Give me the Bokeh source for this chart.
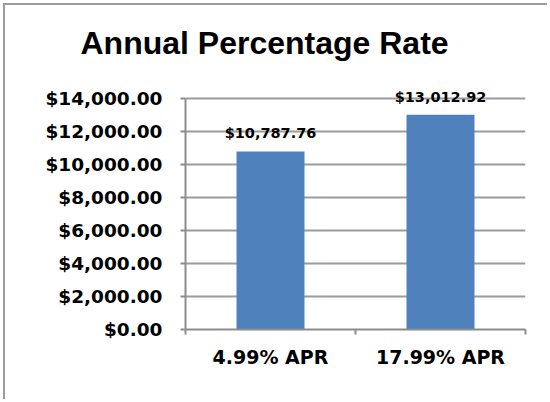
from bokeh.plotting import figure
from bokeh.models import (Range1d, FixedTicker, NumeralTickFormatter, ColumnDataSource,
                          Title, LabelSet)
from bokeh.core.properties import value
from bokeh.embed import file_html
from bokeh.resources import INLINE

categories = ["4.99% APR", "17.99% APR"]
totals = [10787.76, 13012.92]
y_ticks = [0, 2000, 4000, 6000, 8000, 10000, 12000, 14000]

xs = [i + 0.5 for i in range(len(categories))]
src = ColumnDataSource(dict(x=xs, top=totals,
                            label=["${:,.2f}".format(v) for v in totals]))

Y_MAX = 14000
Y_VIEW = Y_MAX * 252 / 232  # headroom above the top gridline for the data label

p = figure(width=542, height=394, output_backend="svg", toolbar_location=None,
           x_range=Range1d(0, len(categories)), y_range=Range1d(0, Y_VIEW),
           min_border_left=180, min_border_right=24, min_border_top=70, min_border_bottom=72)
p.outline_line_color = None
p.styles = {"box-sizing": "content-box",
            "border-left": "2px solid #9c9c9c", "border-top": "2px solid #9c9c9c",
            "margin-left": "3px", "margin-top": "3px"}

t = Title(text="Annual Percentage Rate", align="left", offset=-105,
          text_font="Liberation Sans", text_font_size="32px",
          text_font_style="bold", text_color="black", standoff=35)
p.add_layout(t, "above")

p.vbar(x="x", top="top", width=0.4, bottom=0, source=src,
       fill_color="#4f81bd", line_color=None)
labels = LabelSet(x="x", y="top", text="label", source=src, text_align="center",
                  text_baseline="middle", y_offset=18, text_font=value("DejaVu Sans"),
                  text_font_size="14.5px", text_font_style="bold", text_color="black")
p.add_layout(labels)

# x axis
p.xaxis.ticker = FixedTicker(ticks=xs, minor_ticks=list(range(len(categories) + 1)))
p.xaxis.major_label_overrides = {x: c for x, c in zip(xs, categories)}
p.xaxis.major_tick_out = 0
p.xaxis.major_tick_in = 0
p.xaxis.minor_tick_out = 5
p.xaxis.minor_tick_in = 0
p.xaxis.minor_tick_line_color = "#8c8c8c"
p.xaxis.minor_tick_line_width = 2
p.xaxis.axis_line_color = "#8c8c8c"
p.xaxis.axis_line_width = 2
p.xaxis.major_label_standoff = 11
p.xaxis.major_label_text_font = "DejaVu Sans"
p.xaxis.major_label_text_font_size = "19px"
p.xaxis.major_label_text_font_style = "bold"
p.xaxis.major_label_text_color = "black"

# y axis
p.yaxis.ticker = FixedTicker(ticks=y_ticks)
p.yaxis.bounds = (0, Y_MAX)
p.yaxis.formatter = NumeralTickFormatter(format="$0,0.00")
p.yaxis.major_tick_out = 5
p.yaxis.major_tick_in = 0
p.yaxis.minor_tick_line_color = None
p.yaxis.major_tick_line_color = "#8c8c8c"
p.yaxis.major_tick_line_width = 2
p.yaxis.axis_line_color = "#8c8c8c"
p.yaxis.axis_line_width = 2
p.yaxis.major_label_standoff = 18
p.yaxis.major_label_text_font = "DejaVu Sans"
p.yaxis.major_label_text_font_size = "18.5px"
p.yaxis.major_label_text_font_style = "bold"
p.yaxis.major_label_text_color = "black"

p.xgrid.grid_line_color = None
p.ygrid.ticker = FixedTicker(ticks=y_ticks)
p.ygrid.grid_line_color = "#9c9c9c"
p.ygrid.grid_line_width = 2

open("out.html", "w").write(file_html(p, INLINE))
